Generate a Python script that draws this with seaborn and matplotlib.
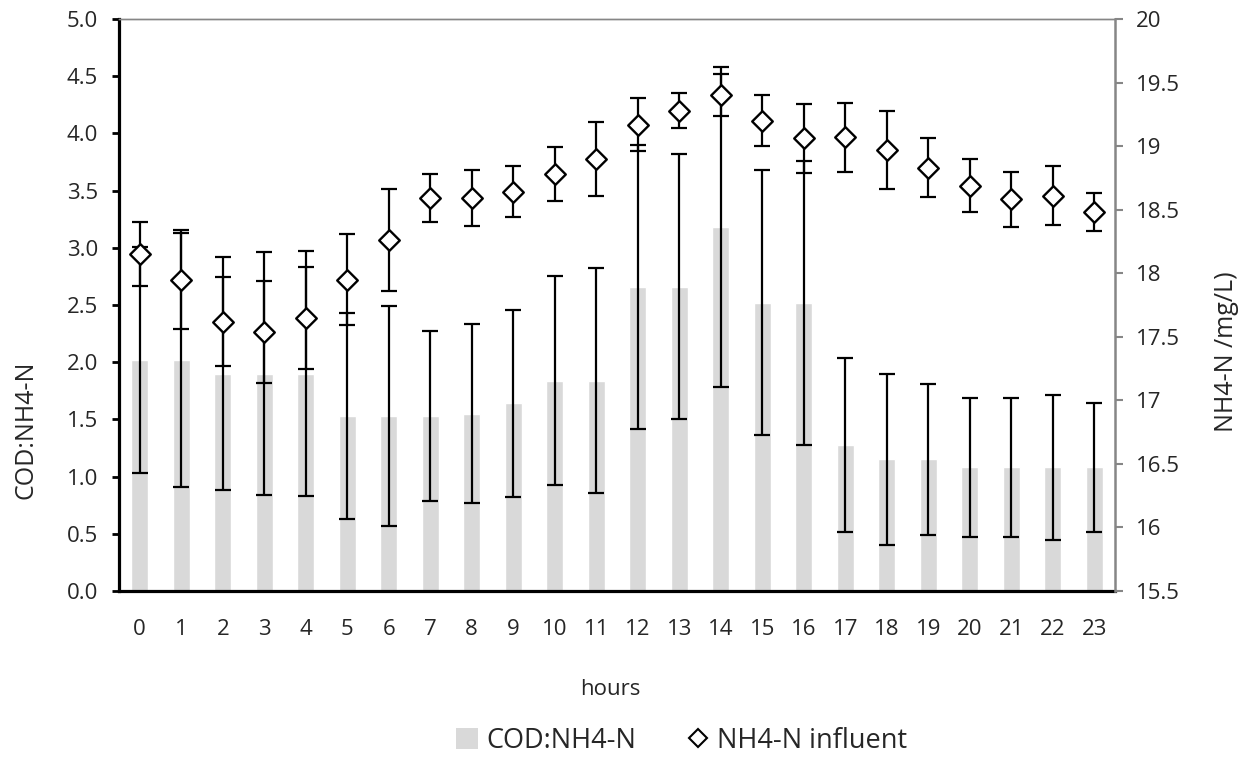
import numpy as np
import pandas as pd
import matplotlib
matplotlib.use("Agg")
import matplotlib.pyplot as plt
from matplotlib.patches import Patch
from matplotlib.lines import Line2D
from matplotlib.ticker import FuncFormatter, MultipleLocator
import seaborn as sns

# Hourly profile of the influent
hours = list(range(24))
cod_ratio = [2.02, 2.02, 1.90, 1.90, 1.90, 1.53, 1.53, 1.53, 1.55, 1.64, 1.84, 1.84,
             2.66, 2.66, 3.18, 2.52, 2.52, 1.28, 1.15, 1.15, 1.08, 1.08, 1.08, 1.08]
cod_ratio_err = [0.99, 1.11, 1.02, 1.06, 1.07, 0.90, 0.96, 0.74, 0.78, 0.82, 0.91, 0.98,
                 1.24, 1.16, 1.40, 1.16, 1.24, 0.76, 0.75, 0.66, 0.61, 0.61, 0.63, 0.56]
nh4_influent = [18.15, 17.95, 17.62, 17.54, 17.65, 17.95, 18.26, 18.59, 18.59, 18.64, 18.78, 18.90,
                19.17, 19.28, 19.40, 19.20, 19.06, 19.07, 18.97, 18.83, 18.69, 18.58, 18.61, 18.48]
nh4_influent_err = [0.25, 0.39, 0.35, 0.40, 0.40, 0.36, 0.40, 0.19, 0.22, 0.20, 0.21, 0.29,
                    0.21, 0.135, 0.165, 0.20, 0.27, 0.27, 0.31, 0.23, 0.21, 0.22, 0.23, 0.15]

left_label = "COD:NH4-N"
right_label = "NH4-N /mg/L)"
x_label = "hours"
legend_labels = ["COD:NH4-N", "NH4-N influent"]

df = pd.DataFrame({"hour": hours, "cod": cod_ratio, "cod_err": cod_ratio_err,
                   "nh4": nh4_influent, "nh4_err": nh4_influent_err})

sns.set_style("white")
plt.rcParams["font.family"] = ["Open Sans", "DejaVu Sans"]

W, H = 1253, 763
fig = plt.figure(figsize=(W / 100, H / 100), dpi=100)
x0, x1, y0, y1 = 119, 1115, 19, 591
ax = fig.add_axes([x0 / W, 1 - y1 / H, (x1 - x0) / W, (y1 - y0) / H])

bar_grey = "#d9d9d9"
axis_grey = "#868686"
tick_fs = 16

# COD:NH4-N bars with their spread
sns.barplot(data=df, x="hour", y="cod", color=bar_grey, width=0.42, errorbar=None,
            saturation=1, ax=ax)
pos = np.arange(len(df))
ax.errorbar(pos, df["cod"], yerr=df["cod_err"], fmt="none", ecolor="black",
            elinewidth=1.6, capsize=6, capthick=1.6, zorder=3)

ax.set_xlim(-0.5, len(df) - 0.5)
ax.set_ylim(0, 5)
ax.yaxis.set_major_locator(MultipleLocator(0.5))
ax.yaxis.set_major_formatter(FuncFormatter(lambda v, p: f"{v:.1f}"))
ax.set_xticks(pos)
ax.set_xticklabels([str(h) for h in hours])
ax.set_xticks(np.arange(-0.5, len(df), 1), minor=True)
ax.tick_params(axis="x", which="major", length=0, pad=20, labelsize=tick_fs)
ax.tick_params(axis="x", which="minor", length=5, width=2, color="black", direction="out")
ax.tick_params(axis="y", which="major", length=5, width=2, color="black", direction="out",
               pad=10, labelsize=tick_fs, left=True)

ax.set_ylabel(left_label, fontsize=18)
ax.yaxis.set_label_coords((39 - x0) / (x1 - x0), (y1 - 430) / (y1 - y0))
ax.set_xlabel(x_label, fontsize=16)
ax.xaxis.set_label_coords((610 - x0) / (x1 - x0), (y1 - 679) / (y1 - y0))

for side in ["left", "bottom"]:
    ax.spines[side].set_color("black")
    ax.spines[side].set_linewidth(2.3)
ax.spines["top"].set_color(axis_grey)
ax.spines["top"].set_linewidth(1.0)
ax.spines["right"].set_visible(False)

# NH4-N influent on the secondary axis
ax2 = ax.twinx()
ax2.errorbar(pos, df["nh4"], yerr=df["nh4_err"], fmt="none", ecolor="black",
             elinewidth=1.6, capsize=6, capthick=1.6, zorder=2)
sns.scatterplot(x=pos, y=df["nh4"], marker="D", s=110, facecolor="white",
                edgecolor="black", linewidth=1.7, ax=ax2, zorder=4, legend=False)
ax2.set_ylim(15.5, 20)
ax2.yaxis.set_major_locator(MultipleLocator(0.5))
ax2.yaxis.set_major_formatter(FuncFormatter(lambda v, p: f"{v:g}"))
ax2.tick_params(axis="y", which="major", length=6, width=1.5, color=axis_grey,
                direction="out", pad=9, labelsize=tick_fs, right=True)
ax2.set_ylabel(right_label, fontsize=18)
ax2.yaxis.set_label_coords((1214 - x0) / (x1 - x0), (y1 - 352) / (y1 - y0))
ax2.spines["right"].set_color(axis_grey)
ax2.spines["right"].set_linewidth(1.8)
ax2.spines["top"].set_color(axis_grey)
ax2.spines["top"].set_linewidth(1.0)
ax2.spines["left"].set_visible(False)
ax2.spines["bottom"].set_visible(False)
ax2.set_xlim(-0.5, len(df) - 0.5)

handles = [Patch(facecolor=bar_grey, edgecolor="none"),
           Line2D([], [], linestyle="none", marker="D", markersize=9.5,
                  markerfacecolor="white", markeredgecolor="black", markeredgewidth=1.5)]
fig.legend(handles, legend_labels, loc="center", bbox_to_anchor=(682 / W, 1 - 741 / H),
           ncol=2, frameon=False, fontsize=19.5, handlelength=0.8, handleheight=0.8,
           handletextpad=0.3, columnspacing=1.9)

fig.savefig("out.png", dpi=100)
